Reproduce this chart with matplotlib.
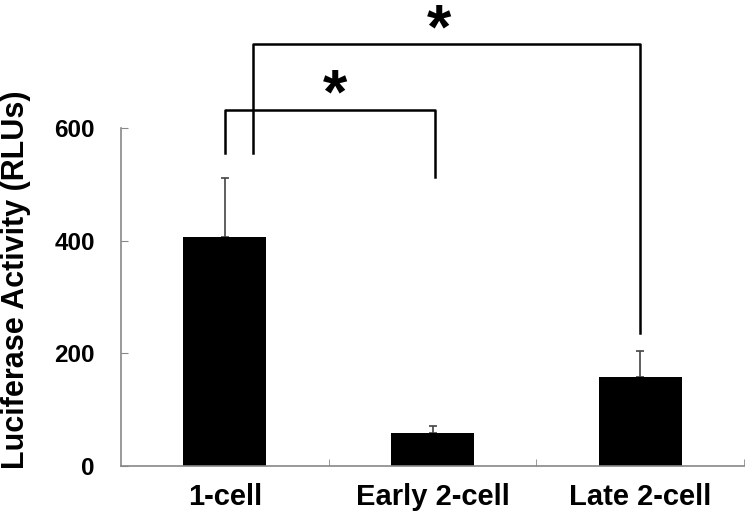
import matplotlib
matplotlib.use('Agg')
import matplotlib.pyplot as plt
import numpy as np

# Data
categories = ['1-cell', 'Early 2-cell', 'Late 2-cell']
means = [407, 59, 158]
errors = [105, 12, 46]

# Significance brackets: (left x, left leg bottom, top y, right x, right leg bottom)
brackets = [
    (0.0, 555, 633, 1.01, 513),
    (0.135, 555, 750, 2.0, 236),
]
stars = [(0.53, 627), (1.03, 743)]

plt.rcParams['font.family'] = ['Liberation Sans', 'DejaVu Sans']

fig = plt.figure(figsize=(7.54, 5.23), dpi=100)
ax = fig.add_axes([0.1605, 0.109, 0.8265, 0.646])

x = np.arange(len(categories))
ax.bar(x, means, width=0.4, color='black', zorder=2)
ax.errorbar(x, means, yerr=[np.zeros(len(means)), errors], fmt='none',
            ecolor='#444444', elinewidth=1.2, capsize=3, capthick=1.2, zorder=1)

ax.set_xlim(-0.5, 2.5)
ax.set_ylim(0, 600)
ax.set_yticks([0, 200, 400, 600])
ax.set_xticks(x)
ax.set_xticklabels(categories, fontsize=21, fontweight='bold')
ax.set_xticks([0.5, 1.5, 2.5], minor=True)
ax.tick_params(axis='x', which='major', length=0, pad=12)
ax.tick_params(axis='x', which='minor', direction='in', length=5, color='#888888')
ax.tick_params(axis='y', direction='in', length=5, color='#888888', pad=19,
               labelsize=17.5)
for lbl in ax.get_yticklabels():
    lbl.set_fontweight('bold')

for s in ['top', 'right']:
    ax.spines[s].set_visible(False)
for s in ['left', 'bottom']:
    ax.spines[s].set_color('#888888')
    ax.spines[s].set_linewidth(1.2)

ax.set_ylabel('Luciferase Activity (RLUs)', fontsize=22, fontweight='bold')
ax.yaxis.set_label_coords(-0.1445, 0.55)

# Brackets and stars
for x0, y0, ytop, x1, y1 in brackets:
    ax.plot([x0, x0, x1, x1], [y0, ytop, ytop, y1], color='black', lw=1.8,
            clip_on=False, zorder=3)
for sx, sy in stars:
    ax.text(sx, sy, '*', fontsize=45, fontweight='bold', ha='center', va='baseline',
            clip_on=False)

fig.savefig('out.png', dpi=100)
